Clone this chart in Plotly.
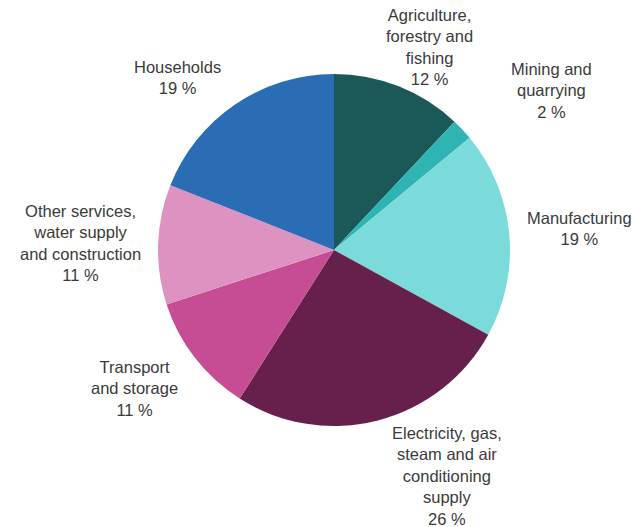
import plotly.graph_objects as go

# Energy use by sector, share of total (%)
sectors = [
    "Agriculture,<br>forestry and<br>fishing",
    "Mining and<br>quarrying",
    "Manufacturing",
    "Electricity, gas,<br>steam and air<br>conditioning<br>supply",
    "Transport<br>and storage",
    "Other services,<br>water supply<br>and construction",
    "Households",
]
shares = [12, 2, 19, 26, 11, 11, 19]
colors = ["#1b5858", "#2fb4b4", "#7adbda", "#671f4b", "#c64c94", "#de92c1", "#2a6db4"]

# label anchor points in pixels (x from left, y from top) for the outside labels
label_px = [(429, 47), (551, 90), (579, 228), (447, 476), (134, 388), (80, 243), (177, 77)]

W, H = 635, 527
cx, cy, r = 334, 250, 176

fig = go.Figure(
    go.Pie(
        labels=[s.replace("<br>", " ") for s in sectors],
        values=shares,
        sort=False,
        direction="clockwise",
        rotation=0,
        marker=dict(colors=colors, line=dict(width=0)),
        textinfo="none",
        hoverinfo="label+percent",
        domain=dict(
            x=[(cx - r) / W, (cx + r) / W],
            y=[(H - cy - r) / H, (H - cy + r) / H],
        ),
        showlegend=False,
    )
)

annotations = []
for name, val, (px, py) in zip(sectors, shares, label_px):
    annotations.append(
        dict(
            text=f"{name}<br>{val} %",
            x=px / W,
            y=1 - py / H,
            xref="paper",
            yref="paper",
            xanchor="center",
            yanchor="middle",
            align="center",
            showarrow=False,
            font=dict(family="Liberation Sans, Arial, sans-serif", size=16.5, color="#3a3a3a"),
        )
    )

fig.update_layout(
    width=W,
    height=H,
    margin=dict(l=0, r=0, t=0, b=0),
    paper_bgcolor="white",
    plot_bgcolor="white",
    annotations=annotations,
)

fig.write_html("out.html")
